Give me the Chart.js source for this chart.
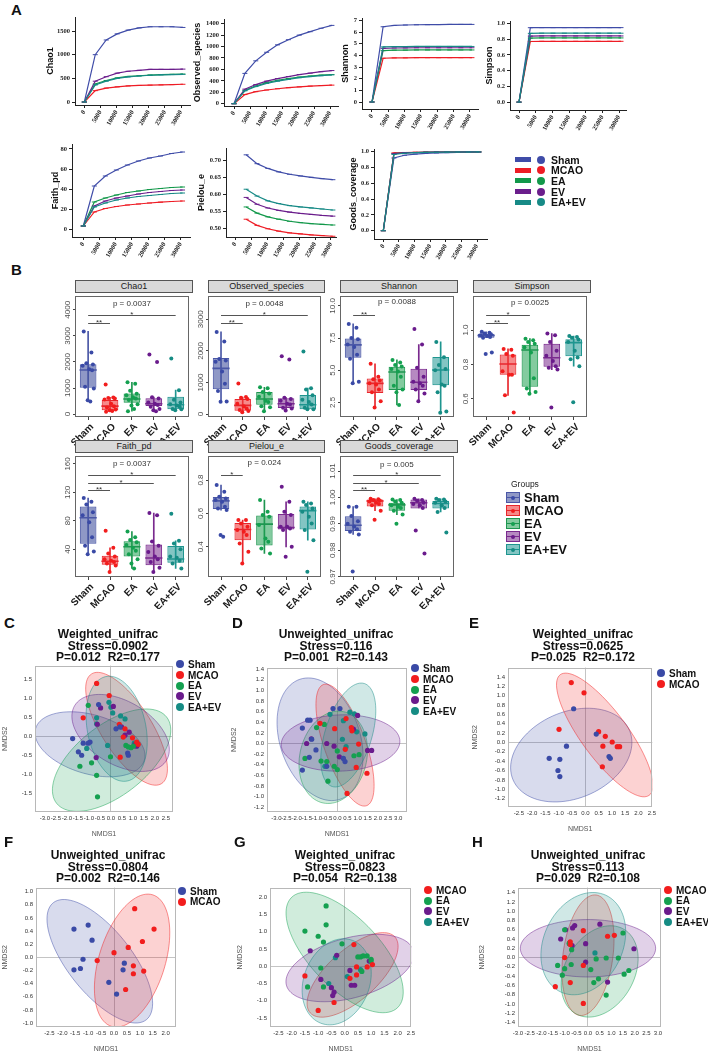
<!DOCTYPE html>
<html>
<head>
<meta charset="utf-8">
<script src="https://cdn.jsdelivr.net/npm/chart.js@4.4.1/dist/chart.umd.min.js"></script>
<style>
  body { margin: 0; background: #fff; font-family: 'Liberation Sans', Arial, sans-serif; }
  #fig { position: relative; width: 708px; height: 1051px; overflow: hidden; }
  canvas { position: absolute; }
  .lbl { position: absolute; font-weight: bold; font-size: 15px; color: #111; }
  .strip { position: absolute; background: #d9d9d9; border: 1px solid #555; box-sizing: border-box; font-size: 9px; text-align: center; line-height: 10px; color: #1a1a1a; }
  .ttl { position: absolute; text-align: center; font-weight: bold; font-size: 12px; line-height: 11.5px; color: #111; white-space: pre; }
  .leg { position: absolute; font-weight: bold; color: #111; white-space: nowrap; display: flex; align-items: center; }
</style>
</head>
<body>
<div id="fig"></div>
<script>
/* ---- shared ---- */
const groups = ['Sham', 'MCAO', 'EA', 'EV', 'EA+EV'];
const depths = [0, 3400, 6800, 10200, 13600, 17000, 20400, 23800, 27200, 30600];
const depthTicks = [0, 5000, 10000, 15000, 20000, 25000, 30000];

/* ---- A: rarefaction curves (Sham, MCAO, EA, EV, EA+EV) ---- */
const chao1Curve = [
    [0, 1000, 1310, 1440, 1520, 1565, 1590, 1590, 1590, 1575],
    [0, 240, 295, 320, 340, 350, 357, 362, 368, 375],
    [0, 380, 455, 510, 540, 555, 570, 580, 585, 590],
    [0, 440, 535, 610, 650, 670, 690, 690, 690, 695],
    [0, 360, 440, 500, 530, 550, 565, 575, 580, 585]
];
const obsCurve = [
    [0, 530, 750, 900, 1030, 1120, 1200, 1260, 1320, 1370],
    [0, 160, 210, 240, 262, 280, 295, 308, 318, 325],
    [0, 235, 310, 370, 410, 440, 465, 485, 500, 510],
    [0, 255, 335, 395, 440, 475, 510, 535, 560, 580],
    [0, 225, 300, 355, 395, 425, 455, 475, 490, 505]
];
const shanCurve = [
    [0, 6.45, 6.56, 6.6, 6.62, 6.63, 6.64, 6.65, 6.65, 6.65],
    [0, 3.75, 3.78, 3.79, 3.8, 3.8, 3.8, 3.8, 3.8, 3.8],
    [0, 4.4, 4.44, 4.45, 4.46, 4.46, 4.46, 4.46, 4.46, 4.46],
    [0, 4.6, 4.63, 4.64, 4.65, 4.65, 4.65, 4.65, 4.65, 4.65],
    [0, 4.72, 4.74, 4.75, 4.76, 4.76, 4.76, 4.76, 4.76, 4.76]
];
const simpCurve = [
    [0, 0.945, 0.946, 0.946, 0.946, 0.946, 0.946, 0.946, 0.946, 0.946],
    [0, 0.770, 0.772, 0.772, 0.772, 0.772, 0.772, 0.772, 0.772, 0.772],
    [0, 0.813, 0.815, 0.815, 0.815, 0.815, 0.815, 0.815, 0.815, 0.815],
    [0, 0.838, 0.840, 0.840, 0.840, 0.840, 0.840, 0.840, 0.840, 0.840],
    [0, 0.873, 0.875, 0.875, 0.875, 0.875, 0.875, 0.875, 0.875, 0.875]
];
const faithCurve = [
    [3, 43, 53, 59, 64, 68, 71, 73, 75.5, 77],
    [3, 17, 20.5, 22.5, 24, 25, 26, 26.8, 27.5, 28],
    [3, 27, 31, 34, 36.5, 38, 39.5, 40.5, 41.5, 42],
    [3, 23, 28, 31, 33, 35, 36.5, 37.5, 38.5, 39],
    [3, 22, 26, 29, 31, 32.5, 33.5, 34.5, 35.5, 36]
];
const pielCurve = [
    [null, 0.716, 0.690, 0.676, 0.666, 0.659, 0.654, 0.650, 0.646, 0.643],
    [null, 0.527, 0.509, 0.499, 0.492, 0.487, 0.484, 0.481, 0.479, 0.477],
    [null, 0.563, 0.545, 0.534, 0.527, 0.521, 0.517, 0.514, 0.512, 0.510],
    [null, 0.591, 0.571, 0.560, 0.553, 0.548, 0.544, 0.541, 0.538, 0.536],
    [null, 0.615, 0.595, 0.581, 0.573, 0.567, 0.563, 0.560, 0.557, 0.554]
];
const goodsCurve = [
    [0, 0.92, 0.955, 0.97, 0.978, 0.984, 0.988, 0.99, 0.992, 0.994],
    [0, 0.985, 0.99, 0.993, 0.995, 0.996, 0.997, 0.997, 0.998, 0.998],
    [0, 0.975, 0.985, 0.99, 0.992, 0.994, 0.995, 0.996, 0.997, 0.997],
    [0, 0.975, 0.985, 0.99, 0.992, 0.994, 0.995, 0.996, 0.997, 0.997],
    [0, 0.965, 0.98, 0.988, 0.991, 0.993, 0.995, 0.996, 0.996, 0.997]
];

/* ---- B: boxes [low whisker, q1, median, q3, high whisker] + points ---- */
const chao1Box = [[480, 1011, 1692, 1914, 3170], [90, 148, 308, 543, 640], [110, 432, 580, 790, 1220], [110, 309, 395, 605, 650], [150, 185, 358, 666, 920]];
const chao1Pts = [
    [3170, 2360, 1950, 1900, 1850, 1720, 1680, 1050, 980, 530, 480],
    [1140, 640, 620, 600, 560, 400, 300, 250, 180, 150, 120, 90],
    [1220, 1160, 900, 780, 720, 650, 600, 540, 380, 330, 200, 110],
    [2290, 2000, 650, 600, 450, 400, 350, 280, 200, 150, 110],
    [2130, 920, 550, 450, 380, 330, 280, 200, 190, 150]
];
const obsBox = [[390, 785, 1447, 1774, 2600], [60, 102, 275, 480, 540], [90, 296, 480, 703, 850], [110, 194, 326, 500, 520], [150, 153, 296, 602, 820]];
const obsPts = [
    [2600, 2300, 1740, 1700, 1660, 1350, 960, 730, 400, 390],
    [970, 540, 520, 480, 330, 250, 180, 130, 100, 60],
    [850, 820, 700, 650, 550, 420, 380, 250, 220, 90],
    [1830, 1730, 520, 480, 420, 330, 300, 200, 180, 110],
    [1980, 820, 780, 600, 450, 380, 300, 200, 150, 150]
];
const shanBox = [[4.0, 5.97, 6.97, 7.47, 8.6], [2.1, 3.23, 3.98, 4.35, 5.5], [2.3, 3.47, 4.87, 5.27, 5.8], [2.6, 3.47, 4.07, 5.12, 7.0], [1.7, 3.83, 5.02, 6.03, 7.2]];
const shanPts = [
    [8.6, 8.3, 7.5, 7.4, 7.0, 6.8, 6.2, 5.9, 4.1, 4.0],
    [5.5, 4.5, 4.3, 4.2, 4.0, 3.9, 3.5, 3.3, 2.6, 2.1],
    [5.8, 5.6, 5.4, 5.3, 5.1, 4.9, 4.5, 3.8, 3.5, 3.3, 2.3],
    [8.2, 7.0, 5.2, 4.5, 4.1, 4.0, 3.8, 3.5, 3.2, 2.6],
    [7.2, 6.0, 5.4, 5.1, 5.0, 3.9, 3.8, 3.3, 1.8, 1.7]
];
const simpBox = [[0.955, 0.955, 0.968, 0.979, 0.99], [0.62, 0.74, 0.802, 0.858, 0.89], [0.63, 0.67, 0.884, 0.914, 0.95], [0.77, 0.787, 0.839, 0.921, 0.98], [0.79, 0.847, 0.927, 0.946, 0.965]];
const simpPts = [
    [0.99, 0.985, 0.98, 0.975, 0.97, 0.965, 0.96, 0.955, 0.87, 0.86],
    [0.89, 0.885, 0.86, 0.85, 0.76, 0.74, 0.74, 0.62, 0.52],
    [0.95, 0.94, 0.93, 0.92, 0.9, 0.87, 0.72, 0.66, 0.64, 0.63],
    [0.98, 0.97, 0.93, 0.88, 0.85, 0.82, 0.79, 0.78, 0.77, 0.55],
    [0.965, 0.96, 0.955, 0.945, 0.93, 0.88, 0.84, 0.83, 0.79, 0.58]
];
const faithBox = [[33, 47.7, 84.4, 100.2, 112], [8, 18.3, 23.2, 31, 42], [13, 30, 43.5, 51.3, 65], [8, 17.4, 27.8, 46.8, 91], [13, 21, 26.4, 44.6, 52]];
const faithPts = [
    [112, 107, 103, 92, 88, 78, 57, 45, 37, 33],
    [66, 42, 34, 30, 26, 24, 22, 20, 17, 8],
    [65, 57, 53, 50, 46, 42, 38, 33, 26, 20, 13],
    [91, 88, 51, 45, 36, 30, 26, 22, 14, 8],
    [90, 52, 48, 40, 30, 28, 24, 20, 13]
];
const pielBox = [[0.62, 0.626, 0.675, 0.698, 0.77], [0.30, 0.439, 0.504, 0.543, 0.56], [0.36, 0.408, 0.536, 0.588, 0.68], [0.40, 0.504, 0.516, 0.597, 0.67], [0.44, 0.504, 0.617, 0.642, 0.67]];
const pielPts = [
    [0.77, 0.73, 0.70, 0.69, 0.68, 0.67, 0.64, 0.63, 0.62, 0.47, 0.46],
    [0.56, 0.56, 0.54, 0.52, 0.50, 0.49, 0.47, 0.42, 0.37, 0.30],
    [0.68, 0.61, 0.59, 0.58, 0.53, 0.45, 0.43, 0.39, 0.36],
    [0.76, 0.67, 0.61, 0.59, 0.52, 0.52, 0.51, 0.50, 0.40, 0.34],
    [0.67, 0.66, 0.65, 0.63, 0.61, 0.58, 0.54, 0.50, 0.44, 0.25]
];
const goodBox = [[0.986, 0.9873, 0.9895, 0.9929, 0.9965], [0.995, 0.99658, 0.99866, 0.99925, 0.9995], [0.9935, 0.995, 0.9972, 0.998, 0.9992], [0.996, 0.99585, 0.998, 0.99925, 0.9995], [0.9945, 0.99585, 0.9977, 0.99866, 0.9995]];
const goodPts = [
    [0.9965, 0.9965, 0.993, 0.991, 0.990, 0.989, 0.988, 0.987, 0.986, 0.972],
    [0.9995, 0.9993, 0.999, 0.9988, 0.9985, 0.998, 0.9975, 0.997, 0.995, 0.9916],
    [0.9992, 0.999, 0.9985, 0.998, 0.997, 0.9965, 0.996, 0.995, 0.9935, 0.990],
    [0.9995, 0.999, 0.9988, 0.998, 0.9975, 0.997, 0.996, 0.9875, 0.9788],
    [0.9995, 0.9992, 0.999, 0.9985, 0.998, 0.997, 0.996, 0.9945, 0.9867]
];
// fixed horizontal spread of the dots around each box
const jit = [-0.2, 0.15, -0.08, 0.22, -0.25, 0.05, 0.18, -0.14, 0.26, -0.02, 0.1, -0.18];

// significance bars [from, to, y, stars]
const chao1Sig = [[1, 5, 3815, '*'], [1, 2, 3507, '**']];
const obsSig = [[1, 5, 3150, '*'], [1, 2, 2896, '**']];
const shanSig = [[1, 2, 9.32, '**']];
const simpSig = [[1, 3, 1.09, '*'], [1, 2, 1.043, '**']];
const faithSig = [[1, 5, 144, '*'], [1, 4, 133.7, '*'], [1, 2, 122.8, '**']];
const pielSig = [[1, 2, 0.829, '*']];
const goodSig = [[1, 5, 1.0084, '*'], [1, 4, 1.0056, '*'], [1, 2, 1.0027, '**']];

/* ---- C-H: NMDS points [NMDS1, NMDS2] ---- */
const cSham = [[-1.74, -0.06], [-1.26, -0.18], [-1.48, -0.41], [-1.33, -0.5], [-1.03, -0.18], [-0.95, -0.15], [-0.56, 0.84], [0.23, 0.2], [0.41, 0.25], [0.76, -0.44], [0.79, -0.5]];
const cMcao = [[-0.65, 1.4], [-0.08, 1.08], [-1.26, 0.49], [0.38, 0.32], [0.64, 0.2], [0.56, -0.02], [0.98, -0.04], [1.17, -0.15], [0.42, -0.55], [1.24, -0.21]];
const cEa = [[-1.03, 0.82], [-1.41, -0.79], [-0.88, -0.7], [-0.65, -1.03], [-0.61, -1.6], [-0.02, -0.54], [0.68, -0.24], [0.79, -0.28], [0.91, -0.3], [1.02, -0.26]];
const cEv = [[-0.47, 0.75], [0.11, 0.79], [-0.62, 0.32], [-0.67, -0.56], [0.48, 0.25], [0.83, 0.11], [1.09, -0.22], [1.17, -0.26], [1.21, -0.21], [0.64, 0.03]];
const cEaev = [[-0.09, 0.9], [0, 0.77], [0.08, 0.62], [-0.65, 0.49], [-0.65, 0.33], [0.44, 0.54], [0.64, 0.46], [-1.1, -0.32], [-0.15, -0.24], [1.06, -0.18]];

const dSham = [[-1.72, 0.29], [-1.46, 0.44], [-1.34, 0.44], [-1.26, 0.08], [-1.05, -0.12], [-1.38, -0.26], [-1.72, -0.5], [-0.21, 0.66], [0.13, 0.66], [0.3, -0.28], [0.38, -0.34], [-0.52, -0.43]];
const dMcao = [[-0.85, 0.38], [-0.13, 0.28], [0.43, 0.47], [0.69, 0.3], [0.72, 0.24], [0.39, -0.11], [1.05, -0.01], [0.93, -0.45], [1.46, -0.56], [0.48, -0.94]];
const dEa = [[-1.02, 0.3], [-0.64, 0.36], [-1.59, -0.28], [-0.8, -0.33], [-0.52, -0.34], [-0.46, -0.71], [-0.15, -0.43], [0, -0.49], [0, -0.14], [0.82, -0.23], [1.07, -0.21]];
const dEv = [[-1.28, 0.09], [-1.51, 0], [-0.52, 0], [-0.16, -0.05], [0.1, -0.25], [0.79, 0.27], [1.0, 0.53], [1.49, -0.13], [1.69, -0.13]];
const dEaev = [[-0.36, 0.55], [0.62, 0.59], [0.84, 0.56], [0.3, 0.43], [0.95, 0.22], [1.36, 0.18], [0.25, 0.08], [0.43, -0.06], [-0.61, -0.43]];

const eSham = [[-0.44, 0.72], [0.41, 0.18], [-0.71, -0.08], [-1.36, -0.34], [-0.96, -0.36], [-1.03, -0.6], [-0.96, -0.73], [0.89, -0.3], [0.94, -0.34]];
const eMcao = [[-0.53, 1.28], [-0.05, 1.06], [-0.99, 0.28], [0.5, 0.23], [0.75, 0.13], [1.01, 0.01], [0.66, -0.08], [1.2, -0.09], [1.29, -0.09], [0.64, -0.52]];

const fSham = [[-1.55, 0.43], [-1.0, 0.49], [-0.85, 0.26], [-1.2, -0.03], [-1.55, -0.19], [-1.3, -0.17], [0.4, -0.09], [0.35, -0.19], [-0.2, -0.38], [0.1, -0.56]];
const fMcao = [[0.8, 0.74], [1.55, 0.43], [1.1, 0.24], [0.55, 0.15], [0, 0.07], [-0.65, -0.05], [0.75, -0.13], [1.15, -0.21], [0.75, -0.25], [0.45, -0.49]];

const gMcao = [[0.35, 0.63], [-1.5, -0.28], [0.45, -0.02], [0.85, -0.02], [1.05, 0.05], [0.2, -0.35], [0.45, -0.25], [-0.4, -1.05], [-1.0, -1.28]];
const gEa = [[-1.5, 1.02], [-0.7, 1.75], [-0.7, 1.2], [-1.0, 0.87], [-0.8, 0.7], [-0.1, 0.65], [0.6, 0.27], [0.7, 0.3], [0.85, 0.3], [1.0, 0.2], [1.0, 0.15], [0.5, 0.27], [0.65, -0.15], [-0.9, -0.05], [-1.4, -0.6], [-0.8, -0.6]];
const gEv = [[-1.3, 0.45], [-0.3, 0.32], [-0.9, -0.38], [0.2, -0.12], [-0.5, -0.62], [-0.4, -0.75], [-0.45, -0.85], [0.25, -0.55], [0.38, -0.55], [0.93, 0.15]];
const gEaev = [[-0.35, 0.25], [0.1, -0.3], [-0.6, -0.5], [0.6, -0.1]];

const hMcao = [[-0.2, 0.58], [-0.76, 0.34], [-0.76, 0.28], [0.84, 0.46], [1.13, 0.48], [-1.0, 0], [-0.2, -0.17], [-0.76, -0.54], [-1.4, -0.63], [-0.2, -0.99]];
const hEa = [[-1.0, 0.6], [-0.8, 0.31], [-0.7, 0.17], [-1.3, -0.17], [-1.0, -0.24], [-1.1, -0.38], [0.35, -0.03], [0.78, -0.01], [1.3, -0.01], [1.5, 0.53], [1.55, -0.36], [1.75, -0.28], [0.12, -0.26], [0.45, -0.46], [0.25, -0.54], [0.78, -0.81], [-0.72, -0.15]];
const hEv = [[-1.17, 0.4], [-0.96, 0.6], [-0.66, 0.64], [-0.57, 0.69], [0.51, 0.72], [-0.1, 0.3], [-0.1, -0.1], [1.97, 0.19], [0.84, -0.53], [-0.68, 0.26]];
const hEaev = [[-0.8, 0.3], [0.3, 0.1]];

// ellipses: [centre x, centre y, semi-axis 1 (dx, dy), semi-axis 2 (dx, dy)]
const cEll = [[-0.95, -0.21, 2.47, -0.42, -0.38, -0.75], [0.71, 0.2, -1.59, 1.45, 0.96, 0.35], [0.03, -0.63, 2.5, 1.14, 0.99, -0.73], [0.44, 0.09, 2.09, -0.72, 0.73, 0.72], [0.26, 0.2, -0.49, 1.38, 1.3, 0.16]];
const dEll = [[-0.85, 0.08, -0.99, 1.13, 1.87, 0.24], [0.38, -0.03, -1.07, 1.14, 0.95, 0.14], [-0.2, -0.26, 0.5, 0.86, 1.61, -0.13], [0.16, 0.01, 2.92, 0.03, 0, 0.53], [0.54, 0.16, 0.79, 0.97, 1.1, -0.13]];
const eEll = [[-0.53, -0.27, 2.19, 0.53, 0.64, -0.85], [0.73, 0.16, -1.67, 1.29, 0.71, 0.29]];
const fEll = [[-0.55, -0.06, -1.8, 0.89, 0.97, 0.3], [0.7, -0.05, 0.8, 1.0, 1.22, -0.15]];
const gEll = [[0.3, -0.25, 1.6, 1.1, 0.63, -0.54], [0, 0.4, -2.0, 1.6, 0.95, 0.7], [0.2, -0.05, 2.4, 0.5, 0.29, -0.84], [-0.3, -0.45, 0.6, 1.2, 1.16, -0.34]];
const hEll = [[0, 0.05, 0.35, 1.3, 1.06, -0.07], [0.5, -0.3, 1.6, 0.5, -0.4, 0.85], [0, 0.2, 2.9, 0, 0, 0.62], [-0.2, 0.3, 0.25, 1.1, 1.8, 0.1]];

// tick values
const cXT = [-3, -2.5, -2, -1.5, -1, -0.5, 0, 0.5, 1, 1.5, 2, 2.5];
const cYT = [-1.5, -1, -0.5, 0, 0.5, 1, 1.5];
const dXT = [-3, -2.5, -2, -1.5, -1, -0.5, 0, 0.5, 1, 1.5, 2, 2.5, 3];
const dYT = [-1.2, -1, -0.8, -0.6, -0.4, -0.2, 0, 0.2, 0.4, 0.6, 0.8, 1, 1.2, 1.4];
const eXT = [-2.5, -2, -1.5, -1, -0.5, 0, 0.5, 1, 1.5, 2, 2.5];
const fXT = [-2.5, -2, -1.5, -1, -0.5, 0, 0.5, 1, 1.5, 2];
const fYT = [-1, -0.8, -0.6, -0.4, -0.2, 0, 0.2, 0.4, 0.6, 0.8, 1];
const gYT = [-1.5, -1, -0.5, 0, 0.5, 1, 1.5, 2];
const hYT = [-1.4, -1.2, -1, -0.8, -0.6, -0.4, -0.2, 0, 0.2, 0.4, 0.6, 0.8, 1, 1.2, 1.4];

/* ---- colours ---- */
const lineCol = ['#3F4CA8', '#EE1C25', '#12984A', '#6B1E8C', '#178A86'];
const boxEdge = ['#4A57A6', '#E8262C', '#1E9650', '#7A2A8E', '#1E958F'];
const boxFill = ['rgba(68,83,160,0.6)', 'rgba(240,60,60,0.6)', 'rgba(30,160,80,0.55)', 'rgba(122,42,142,0.55)', 'rgba(30,150,145,0.55)'];
const dotCol = ['#3A4AA6', '#F21D1D', '#14A050', '#6A1B8C', '#168C84'];
const ellFill = ['rgba(58,74,166,0.2)', 'rgba(242,29,29,0.2)', 'rgba(20,160,80,0.2)', 'rgba(106,27,140,0.2)', 'rgba(22,140,132,0.2)'];
const ellLine = ['rgba(58,74,166,0.6)', 'rgba(242,29,29,0.6)', 'rgba(20,160,80,0.6)', 'rgba(106,27,140,0.6)', 'rgba(22,140,132,0.6)'];

const SANS = 'Liberation Sans';
const SERIF = 'Liberation Serif';
const fig = document.getElementById('fig');
const PAD = 6;

/* ---- helpers ---- */
function addChart(rect, yW, xH, cfg) {
    const [l, t, r, b] = rect;
    const c = document.createElement('canvas');
    const w = r - l + yW + PAD, h = b - t + PAD + xH;
    c.width = w; c.height = h;
    c.style.left = (l - yW) + 'px';
    c.style.top = (t - PAD) + 'px';
    c.style.width = w + 'px';
    c.style.height = h + 'px';
    fig.appendChild(c);
    Object.assign(cfg.options, {
        responsive: false, animation: false, devicePixelRatio: 1,
        layout: { padding: { top: PAD, right: PAD, left: 0, bottom: 0 } }
    });
    cfg.options.plugins = { legend: { display: false }, tooltip: { enabled: false } };
    cfg.options.scales.x.afterFit = s => { s.height = xH; };
    cfg.options.scales.y.afterFit = s => { s.width = yW; };
    return new Chart(c, cfg);
}

const fixTicks = vals => s => { s.ticks = vals.map(v => ({ value: v })); };

const meas = document.createElement('canvas').getContext('2d');
function centerPad(labels, font, dist) {
    meas.font = font;
    const w = Math.max(...labels.map(t => meas.measureText(t).width));
    return dist - 2 - w / 2;
}

function addDiv(cls, css, html) {
    const d = document.createElement('div');
    d.className = cls;
    d.style.cssText = css;
    d.innerHTML = html;
    fig.appendChild(d);
    return d;
}

/* ---- plugins ---- */
const framePlugin = color => ({
    id: 'frame',
    afterDatasetsDraw(chart) {
        const { ctx, chartArea: a } = chart;
        ctx.save();
        ctx.strokeStyle = color;
        ctx.lineWidth = 1;
        ctx.strokeRect(Math.round(a.left) + 0.5, Math.round(a.top) + 0.5, Math.round(a.width) - 1, Math.round(a.height) - 1);
        ctx.restore();
    }
});

const sigPlugin = (bars, pText, pY) => ({
    id: 'sig',
    afterDatasetsDraw(chart) {
        const { ctx, scales: { x, y } } = chart;
        ctx.save();
        ctx.strokeStyle = '#555';
        ctx.fillStyle = '#333';
        ctx.lineWidth = 1;
        ctx.textAlign = 'center';
        ctx.font = '8px ' + SANS;
        bars.forEach(([a, b, v, s]) => {
            const py = Math.round(y.getPixelForValue(v)) + 0.5;
            const x1 = x.getPixelForValue(a), x2 = x.getPixelForValue(b);
            ctx.beginPath(); ctx.moveTo(x1, py); ctx.lineTo(x2, py); ctx.stroke();
            ctx.textBaseline = 'alphabetic';
            ctx.fillText(s, (x1 + x2) / 2, py + 1);
        });
        ctx.textBaseline = 'middle';
        ctx.fillText(pText, x.getPixelForValue(3), y.getPixelForValue(pY));
        ctx.restore();
    }
});

const ellPlugin = (list, idxs) => ({
    id: 'ellipses',
    beforeDatasetsDraw(chart) {
        const { ctx, chartArea: a, scales: { x, y } } = chart;
        ctx.save();
        ctx.beginPath(); ctx.rect(a.left, a.top, a.width, a.height); ctx.clip();
        list.forEach(([cx, cy, ux, uy, vx, vy], k) => {
            ctx.beginPath();
            for (let i = 0; i <= 90; i++) {
                const t = i / 90 * Math.PI * 2;
                const px = x.getPixelForValue(cx + ux * Math.cos(t) + vx * Math.sin(t));
                const py = y.getPixelForValue(cy + uy * Math.cos(t) + vy * Math.sin(t));
                if (i) ctx.lineTo(px, py); else ctx.moveTo(px, py);
            }
            ctx.closePath();
            ctx.fillStyle = ellFill[idxs[k]];
            ctx.fill();
            ctx.strokeStyle = ellLine[idxs[k]];
            ctx.lineWidth = 0.8;
            ctx.stroke();
        });
        ctx.restore();
    }
});

/* ---- A: rarefaction ---- */
function rareChart(rect, yW, curves, yMin, yMax, yTicks, dec, xMin, xMax, title) {
    const order = [4, 3, 2, 1, 0];
    const datasets = order.map(g => ({
        data: depths.map((d, i) => ({ x: d, y: curves[g][i] })),
        borderColor: lineCol[g],
        borderWidth: 1.2,
        pointStyle: 'line',
        pointRadius: 2.5,
        pointBorderColor: lineCol[g],
        pointBorderWidth: 1,
        tension: 0
    }));
    const tickFont = { family: SERIF, size: 6.5, weight: 'bold' };
    addChart(rect, yW, 32, {
        type: 'line',
        data: { datasets },
        options: {
            scales: {
                x: {
                    type: 'linear', min: xMin, max: xMax, bounds: 'data',
                    afterBuildTicks: fixTicks(depthTicks),
                    ticks: { autoSkip: false, minRotation: 60, maxRotation: 60, font: tickFont, color: '#222', padding: 1, callback: v => String(v) },
                    grid: { display: true, drawOnChartArea: false, tickLength: 3, color: '#222' },
                    border: { color: '#222', width: 1 }
                },
                y: {
                    type: 'linear', min: yMin, max: yMax, bounds: 'data',
                    afterBuildTicks: fixTicks(yTicks),
                    ticks: { font: tickFont, color: '#222', padding: 2, callback: v => v.toFixed(dec) },
                    grid: { display: true, drawOnChartArea: false, tickLength: 3, color: '#222' },
                    border: { color: '#222', width: 1 },
                    title: { display: true, text: title, font: { family: SANS, size: 9, weight: 'bold' }, color: '#111', padding: 0 }
                }
            }
        }
    });
}

rareChart([75, 17, 190, 105], 30, chao1Curve, -63, 1796, [0, 500, 1000, 1500], 0, -2885, 32790, 'Chao1');
rareChart([224, 19, 338, 106], 32, obsCurve, -40, 1482, [0, 200, 400, 600, 800, 1000, 1200, 1400], 0, -3125, 32500, 'Observed_species');
rareChart([362, 18, 478, 109], 22, shanCurve, -0.6, 7.2, [0, 1, 2, 3, 4, 5, 6, 7], 0, -3060, 32450, 'Shannon');
rareChart([510, 21, 626, 110], 26, simpCurve, -0.1, 1.03, [0, 0.2, 0.4, 0.6, 0.8, 1.0], 1, -2700, 32100, 'Simpson');
rareChart([72, 144, 190, 237], 22, faithCurve, -8, 85, [0, 20, 40, 60, 80], 0, -3480, 32900, 'Faith_pd');
rareChart([226, 148, 336, 237], 30, pielCurve, 0.4748, 0.736, [0.5, 0.55, 0.6, 0.65, 0.7], 2, -2915, 31570, 'Pielou_e');
rareChart([374, 149, 487, 239], 26, goodsCurve, -0.105, 1.034, [0, 0.2, 0.4, 0.6, 0.8, 1.0], 1, -2980, 33200, 'Goods_coverage');

// legend A
groups.forEach((g, i) => {
    addDiv('leg', `left:515px;top:${153.5 + i * 10.7}px;height:12px;font-size:10.5px;`,
        `<span style="display:inline-block;width:16px;height:5px;background:${lineCol[i]};margin-right:6px"></span>` +
        `<span style="display:inline-block;width:8px;height:8px;border-radius:50%;background:${lineCol[i]};margin-right:6px"></span>${g}`);
});

/* ---- B: box plots ---- */
function boxChart(rect, strip, stats, pts, yMin, yMax, yTicks, dec, sig, pText, pY) {
    const lab = yTicks.map(v => v.toFixed(dec));
    const ds = [];
    pts.forEach((arr, g) => ds.push({
        type: 'scatter', order: 0,
        data: arr.map((v, i) => ({ x: g + 1 + jit[i], y: v })),
        pointRadius: 2, pointBackgroundColor: dotCol[g], pointBorderWidth: 0
    }));
    ds.push({
        type: 'scatter', order: 1,
        data: stats.map((s, g) => ({ x: g + 1, y: s[2] })),
        pointStyle: 'line', pointRadius: 8.6, pointBorderColor: boxEdge, pointBorderWidth: 1.6
    });
    ds.push({
        type: 'bar', order: 2,
        data: stats.map((s, g) => ({ x: g + 1, y: [s[1], s[3]] })),
        backgroundColor: boxFill, borderColor: boxEdge, borderWidth: 1, borderSkipped: false,
        grouped: false, barPercentage: 0.76, categoryPercentage: 1
    });
    ds.push({
        type: 'bar', order: 3,
        data: stats.map((s, g) => ({ x: g + 1, y: [s[0], s[4]] })),
        backgroundColor: boxEdge, barThickness: 1, grouped: false
    });
    const yFont = '8px ' + SANS;
    addChart(rect, 20, 32, {
        type: 'bar',
        data: { datasets: ds },
        plugins: [sigPlugin(sig, pText, pY), framePlugin('#666')],
        options: {
            scales: {
                x: {
                    type: 'linear', min: 0.4, max: 5.6, offset: false, bounds: 'data',
                    afterBuildTicks: fixTicks([1, 2, 3, 4, 5]),
                    ticks: { autoSkip: false, minRotation: 45, maxRotation: 45, font: { family: SANS, size: 10, weight: 'bold' }, color: '#1a1a1a', padding: 1, labelOffset: 4, callback: v => groups[v - 1] },
                    grid: { display: true, drawOnChartArea: false, offset: false, tickLength: 3, color: '#444' },
                    border: { display: false }
                },
                y: {
                    type: 'linear', min: yMin, max: yMax, bounds: 'data',
                    afterBuildTicks: fixTicks(yTicks),
                    ticks: { minRotation: 90, maxRotation: 90, crossAlign: 'center', padding: centerPad(lab, yFont, 7), font: { family: SANS, size: 8 }, color: '#4d4d4d', callback: v => v.toFixed(dec) },
                    grid: { display: true, drawOnChartArea: false, tickLength: 2, color: '#444' },
                    border: { display: false }
                }
            }
        }
    });
    addDiv('strip', `left:${rect[0]}px;top:${rect[1] - 12}px;width:${rect[2] - rect[0]}px;height:13px;`, strip);
}

boxChart([75, 292, 193, 417], 'Chao1', chao1Box, chao1Pts, -110, 4520, [0, 1000, 2000, 3000, 4000], 0, chao1Sig, 'p = 0.0037', 4222);
boxChart([208, 292, 325, 417], 'Observed_species', obsBox, obsPts, -92, 3731, [0, 1000, 2000, 3000], 0, obsSig, 'p = 0.0048', 3486);
boxChart([340, 292, 458, 417], 'Shannon', shanBox, shanPts, 1.37, 10.75, [2.5, 5.0, 7.5, 10.0], 1, shanSig, 'p = 0.0088', 10.28);
boxChart([473, 292, 591, 417], 'Simpson', simpBox, simpPts, 0.494, 1.197, [0.6, 0.8, 1.0], 1, simpSig, 'p = 0.0025', 1.157);
boxChart([75, 452, 193, 577], 'Faith_pd', faithBox, faithPts, 1.0, 170.9, [40, 80, 120, 160], 0, faithSig, 'p = 0.0037', 160);
boxChart([208, 452, 325, 577], 'Pielou_e', pielBox, pielPts, 0.219, 0.943, [0.4, 0.6, 0.8], 1, pielSig, 'p = 0.024', 0.903);
boxChart([340, 452, 458, 577], 'Goods_coverage', goodBox, goodPts, 0.9699, 1.0156, [0.97, 0.98, 0.99, 1.00, 1.01], 2, goodSig, 'p = 0.005', 1.0124);

// legend B
addDiv('leg', 'left:511px;top:479px;font-size:8.5px;font-weight:normal;color:#222;', 'Groups');
groups.forEach((g, i) => {
    addDiv('leg', `left:506px;top:${490.5 + i * 13.1}px;height:14px;font-size:13px;`,
        `<span style="position:relative;display:inline-block;width:12px;height:9px;border:1px solid ${boxEdge[i]};background:${boxFill[i]};margin-right:4px">` +
        `<span style="position:absolute;left:0;right:0;top:4px;height:1px;background:${boxEdge[i]}"></span>` +
        `<span style="position:absolute;left:4px;top:2.5px;width:4px;height:4px;border-radius:50%;background:${dotCol[i]}"></span></span>${g}`);
});

/* ---- C-H: NMDS ---- */
function nmdsChart(rect, yW, sets, idxs, ells, xr, yr, xt, yt) {
    const ds = sets.map((pts, k) => ({
        type: 'scatter',
        data: pts.map(p => ({ x: p[0], y: p[1] })),
        pointRadius: 2.6, pointBackgroundColor: dotCol[idxs[k]], pointBorderWidth: 0
    }));
    const zero = c => (c.tick && Math.abs(c.tick.value) < 1e-9) ? '#c4c4c4' : 'rgba(0,0,0,0)';
    const tf = { family: SANS, size: 6 };
    const ttl = t => ({ display: true, text: t, font: { family: SANS, size: 7 }, color: '#555', padding: 0 });
    addChart(rect, yW, 26, {
        type: 'scatter',
        data: { datasets: ds },
        plugins: [ellPlugin(ells, idxs), framePlugin('#b8b8b8')],
        options: {
            scales: {
                x: {
                    type: 'linear', min: xr[0], max: xr[1], bounds: 'data',
                    afterBuildTicks: fixTicks(xt),
                    ticks: { autoSkip: false, maxRotation: 0, minRotation: 0, font: tf, color: '#333', padding: 3, callback: v => v.toFixed(1) },
                    grid: { color: zero, drawTicks: false }, border: { display: false },
                    title: ttl('NMDS1')
                },
                y: {
                    type: 'linear', min: yr[0], max: yr[1], bounds: 'data',
                    afterBuildTicks: fixTicks(yt),
                    ticks: { autoSkip: false, font: tf, color: '#333', padding: 3, callback: v => v.toFixed(1) },
                    grid: { color: zero, drawTicks: false }, border: { display: false },
                    title: ttl('NMDS2')
                }
            }
        }
    });
}

function dotLegend(cx, cy, idxs, gap) {
    idxs.forEach((g, i) => {
        addDiv('leg', `left:${cx - 4}px;top:${cy + i * gap - 6}px;height:12px;font-size:10px;`,
            `<span style="display:inline-block;width:8px;height:8px;border-radius:50%;background:${dotCol[g]};margin-right:4px"></span>${groups[g]}`);
    });
}

function nmdsTitle(cx, top, lines) {
    addDiv('ttl', `left:${cx - 80}px;top:${top}px;width:160px;`, lines.join('\n'));
}

nmdsChart([35, 665, 173, 812], 34, [cSham, cMcao, cEa, cEv, cEaev], [0, 1, 2, 3, 4], cEll, [-3.45, 2.82], [-2.0, 1.87], cXT, cYT);
nmdsChart([267, 667, 407, 812], 37, [dSham, dMcao, dEa, dEv, dEaev], [0, 1, 2, 3, 4], dEll, [-3.46, 3.43], [-1.29, 1.43], dXT, dYT);
nmdsChart([508, 667, 653, 807], 37, [eSham, eMcao], [0, 1], eEll, [-2.91, 2.52], [-1.38, 1.6], eXT, dYT);
nmdsChart([36, 887, 176, 1027], 35, [fSham, fMcao], [0, 1], fEll, [-3.02, 2.4], [-1.06, 1.06], fXT, fYT);
nmdsChart([270, 887, 412, 1027], 34, [gMcao, gEa, gEv, gEaev], [1, 2, 3, 4], gEll, [-2.82, 2.52], [-1.76, 2.28], eXT, gYT);
nmdsChart([518, 887, 661, 1027], 40, [hMcao, hEa, hEv, hEaev], [1, 2, 3, 4], hEll, [-3.0, 3.13], [-1.5, 1.51], dXT, hYT);

nmdsTitle(108, 629, ['Weighted_unifrac', 'Stress=0.0902', 'P=0.012  R2=0.177']);
nmdsTitle(336, 629, ['Unweighted_unifrac', 'Stress=0.116', 'P=0.001  R2=0.143']);
nmdsTitle(583, 629, ['Weighted_unifrac', 'Stress=0.0625', 'P=0.025  R2=0.172']);
nmdsTitle(108, 850, ['Unweighted_unifrac', 'Stress=0.0804', 'P=0.002  R2=0.146']);
nmdsTitle(345, 850, ['Weighted_unifrac', 'Stress=0.0823', 'P=0.054  R2=0.138']);
nmdsTitle(588, 850, ['Unweighted_unifrac', 'Stress=0.113', 'P=0.029  R2=0.108']);

dotLegend(180, 664.3, [0, 1, 2, 3, 4], 10.7);
dotLegend(415, 668.3, [0, 1, 2, 3, 4], 10.7);
dotLegend(661, 673.3, [0, 1], 11);
dotLegend(182, 891, [0, 1], 10.7);
dotLegend(428, 890, [1, 2, 3, 4], 10.7);
dotLegend(668, 890, [1, 2, 3, 4], 10.7);

/* ---- panel letters ---- */
[['A', 11, 1], ['B', 11, 261], ['C', 4, 614], ['D', 232, 614], ['E', 469, 614], ['F', 4, 833], ['G', 234, 833], ['H', 472, 833]]
    .forEach(([t, x, y]) => addDiv('lbl', `left:${x}px;top:${y}px;`, t));
</script>
</body>
</html>
